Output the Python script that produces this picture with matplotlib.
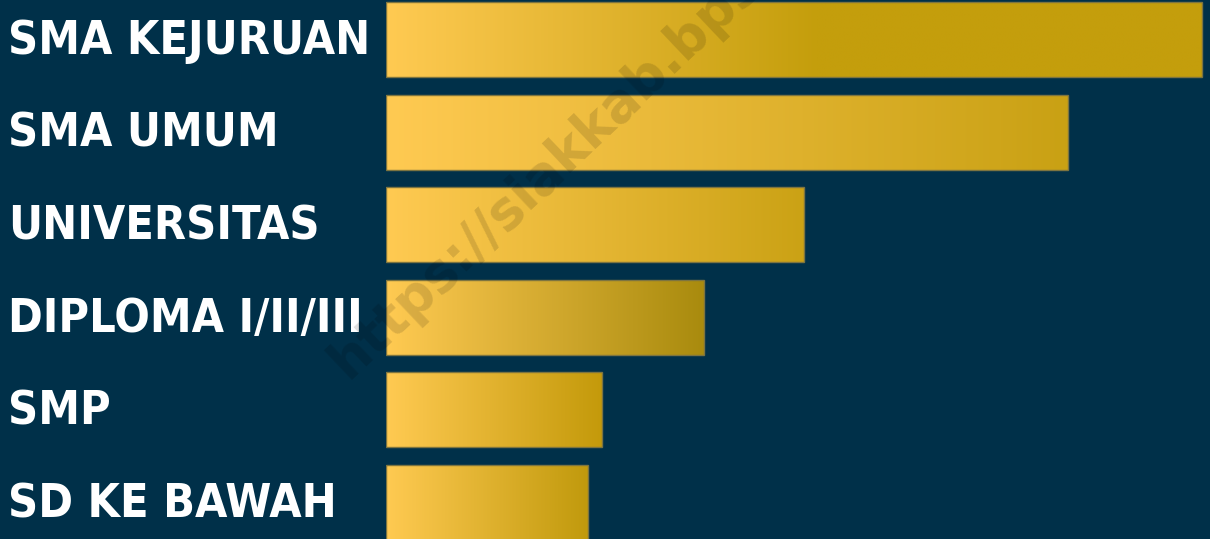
import matplotlib.pyplot as plt
import numpy as np
from matplotlib.colors import LinearSegmentedColormap

# data
categories = ['SMA KEJURUAN', 'SMA UMUM', 'UNIVERSITAS', 'DIPLOMA I/II/III', 'SMP', 'SD KE BAWAH']
values = [40.8, 34.1, 20.9, 15.9, 10.8, 10.1]

# style
bg = '#003049'
start_col = '#FFCA52'
end_cols = ['#C49E0C', '#C9A114', '#CBA215', '#A98B0E', '#C49A0B', '#C19A0D']
grad_span = [0.53, 1, 1, 1, 1, 1]
bar_h = 0.81
pitch = 92.6   # px between bar centres
top_c = 39.5   # px, centre of first bar

fig = plt.figure(figsize=(12.10, 5.39), dpi=100)
fig.patch.set_facecolor(bg)
ax = fig.add_axes([386 / 1210, 0, 1 - 386 / 1210, 1])
ax.set_facecolor(bg)

ypos = np.arange(len(categories))
bars = ax.barh(ypos, values, height=bar_h, color='none',
               edgecolor='#7d7440', linewidth=1, zorder=3)

for i, (b, v) in enumerate(zip(bars, values)):
    cmap = LinearSegmentedColormap.from_list('g%d' % i, [start_col, end_cols[i]])
    x = np.linspace(0, 1, 400)
    t = np.clip(x / grad_span[i], 0, 1)
    img = ax.imshow(t[np.newaxis, :], cmap=cmap, aspect='auto', vmin=0, vmax=1,
                    extent=[0, v, i + bar_h / 2, i - bar_h / 2], zorder=2,
                    interpolation='bilinear')
    img.set_clip_path(b)

ax.set_xlim(0, (1210 - 386) / 20)
ax.set_ylim((539 - top_c) / pitch, -top_c / pitch)
ax.axis('off')

labels = []
for i, c in enumerate(categories):
    t = ax.text(8 / 1210, 1 - (top_c + 2 + i * pitch) / 539, c, transform=fig.transFigure,
                ha='left', va='center', color='white', fontsize=41,
                fontweight='bold', fontstretch='condensed',
                family=['DejaVu Sans', 'Roboto'])
    labels.append(t)

# shrink labels so the longest one fits the space left of the bars
r = fig.canvas.get_renderer()
w = labels[0].get_window_extent(r).width
fs = 41 * min(1.0, 362 / w)
for t in labels:
    t.set_fontsize(fs)

# watermark
fig.text(0.279, 0.315, 'https://siakkab.bps.go.id', rotation=43.5, color='black',
         alpha=0.13, fontsize=38, fontweight='bold', ha='left', va='center',
         rotation_mode='anchor', zorder=10)

fig.savefig('out.png', dpi=100, facecolor=bg)
